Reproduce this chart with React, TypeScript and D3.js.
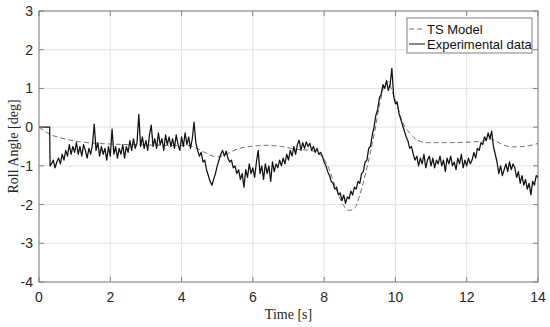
import React from "react";
import * as d3 from "d3";

const xTicks = [0, 2, 4, 6, 8, 10, 12, 14];
const yTicks = [-4, -3, -2, -1, 0, 1, 2, 3];

const tsModel: [number, number][] = [
  [0, 0], [0.3, -0.18], [0.7, -0.3], [1.5, -0.41], [2.5, -0.45], [3.5, -0.47], [4.2, -0.48],
  [4.5, -0.58], [4.75, -0.7], [5.0, -0.77], [5.2, -0.72], [5.4, -0.63], [5.7, -0.53], [6.0, -0.49],
  [6.4, -0.47], [6.8, -0.5], [7.2, -0.57], [7.6, -0.6], [7.9, -0.72], [8.1, -1.0], [8.3, -1.5],
  [8.5, -1.95], [8.7, -2.15], [8.85, -2.1], [9.0, -1.75], [9.2, -1.05], [9.4, -0.2], [9.55, 0.55],
  [9.7, 1.1], [9.8, 1.18], [9.9, 0.95], [10.05, 0.55], [10.2, 0.13], [10.4, -0.15], [10.6, -0.33],
  [10.9, -0.4], [11.5, -0.4], [12.2, -0.38], [12.45, -0.36], [12.6, -0.3], [12.8, -0.35],
  [13.0, -0.45], [13.3, -0.51], [13.6, -0.5], [14, -0.42],
];

const experimental: [number, number][] = [
  [0, 0], [0.05, 0], [0.1, 0], [0.15, 0], [0.2, 0], [0.25, 0], [0.3, 0], [0.31, -1.0],
  [0.35, -0.95], [0.4, -0.85], [0.45, -1.05], [0.5, -0.9], [0.55, -0.8], [0.6, -0.95], [0.65, -0.7],
  [0.7, -0.85], [0.75, -0.6], [0.8, -0.75], [0.85, -0.45], [0.9, -0.7], [0.95, -0.5],
  [1.0, -0.65], [1.05, -0.4], [1.1, -0.7], [1.15, -0.5], [1.2, -0.75], [1.25, -0.45], [1.3, -0.6],
  [1.35, -0.8], [1.4, -0.55], [1.45, -0.7], [1.5, -0.45], [1.55, 0.08], [1.6, -0.6], [1.65, -0.4],
  [1.7, -0.75], [1.75, -0.5], [1.8, -0.7], [1.85, -0.55], [1.9, -0.85], [1.95, -0.5], [2.0, -0.75],
  [2.05, -0.05], [2.1, -0.7], [2.15, -0.5], [2.2, -0.8], [2.25, -0.55], [2.3, -0.7], [2.35, -0.45],
  [2.4, -0.8], [2.45, -0.5], [2.5, -0.65], [2.55, -0.35], [2.6, -0.6], [2.65, -0.3], [2.7, -0.55],
  [2.75, -0.4], [2.8, 0.33], [2.85, -0.5], [2.9, -0.25], [2.95, -0.55], [3.0, -0.35], [3.05, -0.6],
  [3.1, -0.2], [3.15, 0.05], [3.2, -0.5], [3.25, -0.3], [3.3, -0.55], [3.35, -0.15], [3.4, -0.45],
  [3.45, -0.3], [3.5, -0.6], [3.55, -0.2], [3.6, -0.45], [3.65, -0.25], [3.7, -0.5], [3.75, -0.3],
  [3.8, -0.55], [3.85, -0.2], [3.9, -0.45], [3.95, -0.6], [4.0, -0.25], [4.05, -0.5], [4.1, -0.15],
  [4.15, -0.45], [4.2, -0.25], [4.25, -0.55], [4.3, -0.3], [4.35, 0.13], [4.4, -0.4], [4.45, -0.6],
  [4.5, -0.75], [4.55, -0.65], [4.6, -0.9], [4.65, -0.85], [4.7, -1.1], [4.75, -1.25], [4.8, -1.4],
  [4.85, -1.5], [4.9, -1.35], [4.95, -1.2], [5.0, -1.0], [5.05, -0.85], [5.1, -0.7], [5.15, -0.6],
  [5.2, -0.75], [5.25, -0.62], [5.3, -0.8], [5.35, -0.9], [5.4, -0.85], [5.45, -1.05], [5.5, -1.0],
  [5.55, -1.2], [5.6, -1.1], [5.65, -1.35], [5.7, -1.2], [5.75, -1.55], [5.8, -1.1], [5.85, -1.3],
  [5.9, -0.95], [5.95, -1.2], [6.0, -1.05], [6.05, -1.3], [6.1, -0.9], [6.15, -0.6], [6.2, -1.2],
  [6.25, -1.0], [6.3, -1.35], [6.35, -0.95], [6.4, -1.2], [6.45, -1.0], [6.5, -1.4], [6.55, -0.9],
  [6.6, -1.15], [6.65, -0.95], [6.7, -1.05], [6.75, -0.85], [6.8, -1.0], [6.85, -0.8], [6.9, -0.95],
  [6.95, -0.7], [7.0, -0.85], [7.05, -0.6], [7.1, -0.75], [7.15, -0.5], [7.2, -0.7], [7.25, -0.45],
  [7.3, -0.34], [7.35, -0.6], [7.4, -0.4], [7.45, -0.55], [7.5, -0.38], [7.55, -0.5], [7.6, -0.42],
  [7.65, -0.6], [7.7, -0.5], [7.75, -0.65], [7.8, -0.55], [7.85, -0.7], [7.9, -0.65], [7.95, -0.75],
  [8.0, -0.9], [8.05, -1.0], [8.1, -1.15], [8.15, -1.25], [8.2, -1.4], [8.25, -1.45], [8.3, -1.6],
  [8.35, -1.55], [8.4, -1.75], [8.45, -1.7], [8.5, -1.9], [8.55, -1.75], [8.6, -1.97], [8.65, -1.8],
  [8.7, -1.85], [8.75, -1.65], [8.8, -1.75], [8.85, -1.55], [8.9, -1.6], [8.95, -1.4], [9.0, -1.45],
  [9.05, -1.2], [9.1, -1.15], [9.15, -0.9], [9.2, -0.85], [9.25, -0.55], [9.3, -0.5], [9.35, -0.2],
  [9.4, 0.0], [9.45, 0.3], [9.5, 0.45], [9.55, 0.75], [9.6, 0.85], [9.65, 1.1], [9.7, 1.0],
  [9.75, 1.2], [9.8, 0.95], [9.85, 1.1], [9.9, 1.52], [9.95, 0.8], [10.0, 0.6], [10.05, 0.65],
  [10.1, 0.35], [10.15, 0.2], [10.2, 0.05], [10.25, -0.1], [10.3, -0.25], [10.35, -0.35], [10.4, -0.55],
  [10.45, -0.5], [10.5, -0.7], [10.55, -0.85], [10.6, -0.75], [10.65, -1.0], [10.7, -0.8], [10.75, -0.95],
  [10.8, -0.7], [10.85, -1.05], [10.9, -0.85], [10.95, -0.75], [11.0, -1.0], [11.05, -0.8], [11.1, -1.05],
  [11.15, -0.85], [11.2, -0.95], [11.25, -0.75], [11.3, -1.0], [11.35, -0.85], [11.4, -1.15], [11.45, -0.8],
  [11.5, -0.95], [11.55, -0.75], [11.6, -1.0], [11.65, -0.9], [11.7, -1.1], [11.75, -0.8], [11.8, -0.95],
  [11.85, -0.7], [11.9, -1.05], [11.95, -0.85], [12.0, -1.0], [12.05, -0.8], [12.1, -0.95], [12.15, -0.85],
  [12.2, -0.65], [12.25, -0.8], [12.3, -0.55], [12.35, -0.6], [12.4, -0.4], [12.45, -0.45], [12.5, -0.25],
  [12.55, -0.35], [12.6, -0.15], [12.65, -0.3], [12.7, -0.1], [12.75, -0.5], [12.8, -0.7], [12.85, -0.9],
  [12.9, -1.2], [12.95, -1.0], [13.0, -1.25], [13.05, -1.1], [13.1, -0.95], [13.15, -1.15], [13.2, -0.9],
  [13.25, -1.1], [13.3, -0.95], [13.35, -1.05], [13.4, -1.3], [13.45, -1.15], [13.5, -1.45], [13.55, -1.25],
  [13.6, -1.5], [13.65, -1.35], [13.7, -1.6], [13.75, -1.45], [13.8, -1.75], [13.85, -1.4], [13.9, -1.5],
  [13.95, -1.25], [14.0, -1.3],
];

const W = 550;
const H = 327;
const M = { left: 39, right: 538, top: 11, bottom: 282 };

export default function App() {
  const x = d3.scaleLinear().domain([0, 14]).range([M.left, M.right]);
  const y = d3.scaleLinear().domain([-4, 3]).range([M.bottom, M.top]);
  const line = d3.line<[number, number]>().x((d) => x(d[0])).y((d) => y(d[1]));
  const tsLine = d3
    .line<[number, number]>()
    .x((d) => x(d[0]))
    .y((d) => y(d[1]))
    .curve(d3.curveMonotoneX);
  const tickLen = 5;
  const axisColor = "#808080";
  const textColor = "#262626";
  return (
    <svg width={W} height={H} style={{ position: "absolute", left: 0, top: 0, background: "#fff" }}>
      <rect x={0} y={0} width={W} height={H} fill="#fff" />
      {xTicks.map((t) => (
        <line key={"gx" + t} x1={x(t)} x2={x(t)} y1={M.top} y2={M.bottom} stroke="#e3e3e3" strokeWidth={1} />
      ))}
      {yTicks.map((t) => (
        <line key={"gy" + t} x1={M.left} x2={M.right} y1={y(t)} y2={y(t)} stroke="#e3e3e3" strokeWidth={1} />
      ))}
      <path d={tsLine(tsModel) || ""} fill="none" stroke="#6e6e6e" strokeWidth={1} strokeDasharray="5,3" />
      <path d={line(experimental) || ""} fill="none" stroke="#111" strokeWidth={1.25} strokeLinejoin="round" />
      <rect x={M.left} y={M.top} width={M.right - M.left} height={M.bottom - M.top} fill="none" stroke={axisColor} strokeWidth={1} />
      {xTicks.map((t) => (
        <g key={"tx" + t}>
          <line x1={x(t)} x2={x(t)} y1={M.bottom} y2={M.bottom - tickLen} stroke={axisColor} />
          <line x1={x(t)} x2={x(t)} y1={M.top} y2={M.top + tickLen} stroke={axisColor} />
          <text x={x(t)} y={302} textAnchor="middle" fontFamily="Liberation Sans, Arial, sans-serif" fontSize={14} fill={textColor}>
            {t}
          </text>
        </g>
      ))}
      {yTicks.map((t) => (
        <g key={"ty" + t}>
          <line x1={M.left} x2={M.left + tickLen} y1={y(t)} y2={y(t)} stroke={axisColor} />
          <line x1={M.right} x2={M.right - tickLen} y1={y(t)} y2={y(t)} stroke={axisColor} />
          <text x={33} y={y(t) + 5} textAnchor="end" fontFamily="Liberation Sans, Arial, sans-serif" fontSize={14} fill={textColor}>
            {t}
          </text>
        </g>
      ))}
      <text x={(M.left + M.right) / 2} y={319} textAnchor="middle" fontFamily="Liberation Serif, Times New Roman, serif" fontSize={14} fill={textColor}>
        Time [s]
      </text>
      <text transform={`translate(18, ${(M.top + M.bottom) / 2}) rotate(-90)`} textAnchor="middle" fontFamily="Liberation Serif, Times New Roman, serif" fontSize={14} fill={textColor}>
        Roll Angle [deg]
      </text>
      <rect x={407} y={18} width={125} height={35} fill="#fff" stroke={axisColor} strokeWidth={1} />
      <line x1={409} x2={425} y1={29} y2={29} stroke="#6e6e6e" strokeDasharray="5,3" />
      <line x1={409} x2={425} y1={44} y2={44} stroke="#111" />
      <text x={427} y={33.5} fontFamily="Liberation Sans, Arial, sans-serif" fontSize={13} fill="#111">
        TS Model
      </text>
      <text x={427} y={48.5} fontFamily="Liberation Sans, Arial, sans-serif" fontSize={13} fill="#111">
        Experimental data
      </text>
    </svg>
  );
}
